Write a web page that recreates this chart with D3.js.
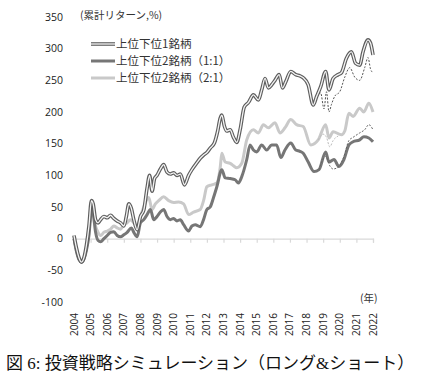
<!DOCTYPE html>
<html>
<head>
<meta charset="utf-8">
<script src="https://cdn.jsdelivr.net/npm/d3@7"></script>
<style>
  html, body { margin: 0; padding: 0; background: #fff; }
  svg { display: block; }
</style>
</head>
<body>
<div id="chart"></div>
<script>
// [year, cumulative return %]
const top1 = [
  [2004.0, 5], [2004.15, -15], [2004.3, -30], [2004.45, -37], [2004.6, -30], [2004.75, -10],
  [2004.9, 20], [2005.05, 60], [2005.15, 55], [2005.3, 30], [2005.45, 25], [2005.6, 30],
  [2005.8, 35], [2006.0, 33], [2006.2, 37], [2006.4, 32], [2006.6, 28], [2006.8, 25],
  [2007.0, 20], [2007.15, 35], [2007.3, 55], [2007.45, 48], [2007.6, 30], [2007.8, 14],
  [2008.0, 35], [2008.2, 45], [2008.4, 80], [2008.55, 100], [2008.7, 75], [2008.85, 95],
  [2009.0, 100], [2009.2, 110], [2009.4, 117], [2009.6, 105], [2009.8, 102], [2010.0, 104],
  [2010.2, 100], [2010.4, 102], [2010.65, 85], [2010.9, 100], [2011.1, 109], [2011.4, 120],
  [2011.6, 127], [2011.8, 132], [2012.0, 136], [2012.2, 143], [2012.45, 151], [2012.65, 170],
  [2012.8, 190], [2012.9, 195], [2013.05, 178], [2013.2, 170], [2013.4, 172], [2013.6, 160],
  [2013.8, 152], [2014.0, 172], [2014.25, 208], [2014.5, 215], [2014.8, 227], [2015.1, 219],
  [2015.3, 235], [2015.5, 253], [2015.7, 238], [2015.9, 243], [2016.1, 250], [2016.35, 259],
  [2016.55, 238], [2016.75, 248], [2017.05, 264], [2017.35, 259], [2017.6, 257], [2017.8, 254],
  [2018.1, 243], [2018.4, 211], [2018.6, 224], [2018.85, 240], [2019.15, 264], [2019.35, 235],
  [2019.6, 253], [2019.9, 259], [2020.1, 262], [2020.4, 285], [2020.7, 295], [2020.95, 277],
  [2021.2, 274], [2021.4, 295], [2021.7, 314], [2021.85, 309], [2022.0, 290]
];

const top2even = [
  [2004.0, 0], [2004.15, -20], [2004.3, -33], [2004.45, -37], [2004.6, -32], [2004.75, -18],
  [2004.9, 5], [2005.05, 45], [2005.15, 40], [2005.3, 10], [2005.45, -3], [2005.6, -5],
  [2005.8, 0], [2006.0, 5], [2006.2, 10], [2006.4, 11], [2006.6, 5], [2006.8, 3],
  [2007.0, 6], [2007.2, 10], [2007.45, 17], [2007.6, 10], [2007.8, 3], [2008.0, 25],
  [2008.2, 30], [2008.4, 38], [2008.6, 46], [2008.8, 30], [2009.0, 35], [2009.2, 42],
  [2009.4, 46], [2009.6, 35], [2009.8, 30], [2010.0, 32], [2010.2, 28], [2010.4, 30],
  [2010.6, 22], [2010.9, 12], [2011.1, 20], [2011.3, 22], [2011.6, 19], [2011.8, 30],
  [2012.0, 46], [2012.2, 50], [2012.4, 65], [2012.6, 82], [2012.9, 109], [2013.1, 96],
  [2013.4, 95], [2013.7, 93], [2013.9, 88], [2014.1, 98], [2014.4, 125], [2014.6, 148],
  [2014.8, 140], [2015.0, 137], [2015.3, 148], [2015.6, 140], [2015.9, 148], [2016.2, 148],
  [2016.45, 128], [2016.7, 140], [2017.05, 151], [2017.35, 140], [2017.6, 138], [2017.8, 135],
  [2018.1, 121], [2018.45, 106], [2018.75, 109], [2019.15, 137], [2019.35, 121], [2019.65, 125],
  [2019.95, 114], [2020.25, 125], [2020.55, 148], [2020.8, 153], [2021.2, 156], [2021.45, 161],
  [2021.75, 159], [2022.0, 153]
];

const top2tilt = [
  [2004.0, 0], [2004.15, -20], [2004.3, -32], [2004.45, -36], [2004.6, -30], [2004.75, -15],
  [2004.9, 10], [2005.05, 50], [2005.15, 45], [2005.3, 20], [2005.45, 10], [2005.6, 5],
  [2005.8, 10], [2006.0, 12], [2006.2, 15], [2006.4, 20], [2006.6, 17], [2006.8, 15],
  [2007.0, 22], [2007.2, 25], [2007.4, 30], [2007.6, 25], [2007.8, 20], [2008.0, 35],
  [2008.2, 50], [2008.5, 65], [2008.7, 46], [2008.9, 55], [2009.1, 60], [2009.4, 66],
  [2009.7, 60], [2010.0, 57], [2010.3, 58], [2010.6, 55], [2010.9, 38], [2011.2, 42],
  [2011.6, 46], [2011.8, 60], [2012.0, 82], [2012.3, 85], [2012.6, 88], [2012.8, 112],
  [2012.9, 135], [2013.1, 121], [2013.4, 119], [2013.6, 115], [2013.8, 112], [2014.1, 119],
  [2014.4, 156], [2014.8, 172], [2015.1, 167], [2015.4, 180], [2015.7, 175], [2016.1, 183],
  [2016.4, 167], [2016.7, 175], [2017.05, 188], [2017.4, 180], [2017.8, 177], [2018.25, 148],
  [2018.7, 156], [2019.15, 180], [2019.35, 159], [2019.6, 169], [2020.1, 164], [2020.3, 170],
  [2020.55, 198], [2020.8, 193], [2021.2, 206], [2021.45, 200], [2021.75, 214], [2022.0, 200]
];

// thin dashed variants from 2018 on
const top1Alt = [
  [2018.6, 224], [2018.85, 230], [2019.05, 205], [2019.2, 232], [2019.35, 200], [2019.5, 212],
  [2019.7, 225], [2020.0, 232], [2020.3, 255], [2020.6, 270], [2020.9, 255], [2021.2, 250],
  [2021.5, 270], [2021.7, 286], [2021.85, 268], [2022.0, 262]
];
const top2evenAlt = [
  [2018.75, 109], [2019.15, 130], [2019.4, 115], [2019.6, 110], [2019.95, 114], [2020.25, 130],
  [2020.55, 155], [2020.8, 160], [2021.2, 167], [2021.5, 172], [2021.75, 180], [2022.0, 172]
];
const top2tiltAlt = [
  [2018.7, 156], [2019.0, 165], [2019.2, 160], [2019.4, 145], [2019.6, 155], [2019.9, 162]
];

const yearTicks = d3.range(2004, 2023);
const valueTicks = [-100, -50, 0, 50, 100, 150, 200, 250, 300, 350];
const legendLabels = ["上位下位1銘柄", "上位下位2銘柄（1:1）", "上位下位2銘柄（2:1）"];

const W = 426, H = 385;
const svg = d3.select("#chart").append("svg").attr("width", W).attr("height", H);

const x = d3.scaleLinear().domain([2004, 2022]).range([74, 373]);
const y = d3.scaleLinear().domain([-100, 350]).range([302, 17]);

const numFont = "'Open Sans', 'Liberation Sans', sans-serif";
const jpFont = "'Noto Sans CJK JP', sans-serif";

// y labels, no axis line
svg.append("g")
  .selectAll("text")
  .data(valueTicks)
  .join("text")
  .attr("x", 63)
  .attr("y", (d) => y(d))
  .attr("dy", "0.35em")
  .attr("text-anchor", "end")
  .style("font-family", numFont)
  .style("font-size", "10.5px")
  .style("fill", "#222")
  .text((d) => d);

// zero line with ticks
const zero = svg.append("g").attr("transform", `translate(0,${y(0)})`);
zero.call(d3.axisBottom(x).tickValues(yearTicks).tickSize(4).tickFormat(""));
zero.select(".domain").attr("stroke", "#d9d9d9").attr("stroke-width", 1.2);
zero.selectAll(".tick line").attr("stroke", "#d9d9d9").attr("stroke-width", 1.2);

// year labels at bottom
svg.append("g")
  .selectAll("text")
  .data(yearTicks)
  .join("text")
  .attr("transform", (d) => `translate(${x(d) + 3.5},313) rotate(-90)`)
  .attr("text-anchor", "end")
  .style("font-family", numFont)
  .style("font-size", "10px")
  .style("fill", "#222")
  .text((d) => d);

const line = d3.line()
  .x((d) => x(d[0]))
  .y((d) => y(d[1]))
  .curve(d3.curveMonotoneX);

const plot = svg.append("g").attr("fill", "none").attr("stroke-linejoin", "round");

plot.append("path").attr("d", line(top2tilt)).attr("stroke", "#c9c9c9").attr("stroke-width", 3);
plot.append("path").attr("d", line(top2tiltAlt)).attr("stroke", "#bbb").attr("stroke-width", 1).attr("stroke-dasharray", "2,1.5");
plot.append("path").attr("d", line(top2even)).attr("stroke", "#767676").attr("stroke-width", 3);
plot.append("path").attr("d", line(top2evenAlt)).attr("stroke", "#666").attr("stroke-width", 1).attr("stroke-dasharray", "2,1.5");
plot.append("path").attr("d", line(top1Alt)).attr("stroke", "#555").attr("stroke-width", 1).attr("stroke-dasharray", "2,1.5");
plot.append("path").attr("d", line(top1)).attr("stroke", "#5e5e5e").attr("stroke-width", 3.6);
plot.append("path").attr("d", line(top1)).attr("stroke", "#f4f4f4").attr("stroke-width", 1.3);

// legend
const legend = svg.append("g");
const legendY = [44, 61, 78];
legendLabels.forEach((label, i) => {
  const g = legend.append("g").attr("transform", `translate(0,${legendY[i]})`);
  if (i === 0) {
    g.append("line").attr("x1", 91).attr("x2", 115).attr("stroke", "#5e5e5e").attr("stroke-width", 3.6);
    g.append("line").attr("x1", 91).attr("x2", 115).attr("stroke", "#f4f4f4").attr("stroke-width", 1.3);
  } else {
    g.append("line").attr("x1", 91).attr("x2", 115)
      .attr("stroke", i === 1 ? "#767676" : "#c9c9c9").attr("stroke-width", 3);
  }
  g.append("text")
    .attr("x", 116)
    .attr("dy", "0.36em")
    .style("font-family", jpFont)
    .style("font-size", "11.5px")
    .style("fill", "#333")
    .text(label);
});

// axis captions
svg.append("text")
  .attr("x", 80).attr("y", 19)
  .style("font-family", jpFont)
  .style("font-size", "10.5px")
  .style("fill", "#333")
  .text("(累計リターン,%)");

svg.append("text")
  .attr("x", 360).attr("y", 302)
  .style("font-family", jpFont)
  .style("font-size", "10.5px")
  .style("fill", "#333")
  .text("(年)");

// caption
svg.append("text")
  .attr("x", 6).attr("y", 369)
  .style("font-family", "'Liberation Serif', 'Noto Sans CJK JP', serif")
  .style("font-size", "17px")
  .style("fill", "#111")
  .text("図 6: 投資戦略シミュレーション（ロング&ショート）");
</script>
</body>
</html>
